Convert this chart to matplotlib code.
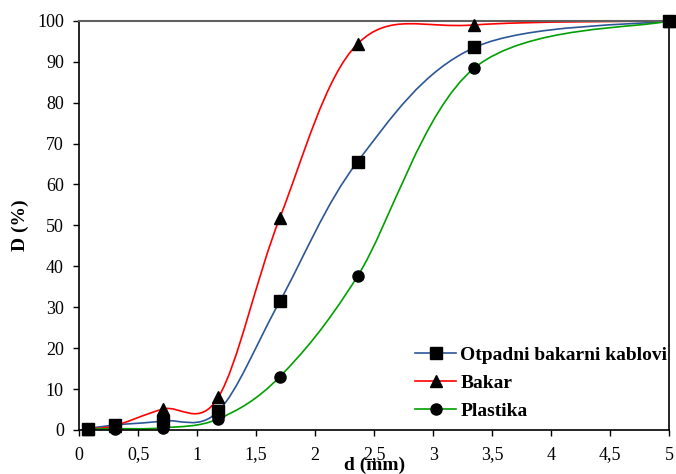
import matplotlib
matplotlib.use('Agg')
import matplotlib.pyplot as plt
from matplotlib.path import Path
from matplotlib.patches import PathPatch
from matplotlib.lines import Line2D
from matplotlib.ticker import FuncFormatter

plt.rcParams['font.family'] = ['Liberation Serif', 'DejaVu Serif']

# sieve sizes (mm)
d = [0.075, 0.3, 0.71, 1.18, 1.7, 2.36, 3.35, 5.0]

# cumulative passing (%)
kablovi = [0.3, 1.2, 2.2, 4.6, 31.4, 65.6, 93.5, 100.0]
bakar = [0.3, 1.0, 5.1, 8.0, 51.8, 94.4, 99.0, 100.0]
plastika = [0.2, 0.3, 0.5, 2.7, 13.0, 37.6, 88.5, 100.0]

labels = ['Otpadni bakarni kablovi', 'Bakar', 'Plastika']
colors = ['#2B5797', '#FF0000', '#00A000']
markers = ['s', '^', 'o']


def smooth_path(xs, ys):
    # Excel-like smoothed line: cubic bezier through the points
    pts = list(zip(xs, ys))
    n = len(pts)
    verts = [pts[0]]
    codes = [Path.MOVETO]
    for i in range(n - 1):
        p0 = pts[i - 1] if i > 0 else pts[i]
        p1 = pts[i]
        p2 = pts[i + 1]
        p3 = pts[i + 2] if i + 2 < n else pts[i + 1]
        c1 = (p1[0] + (p2[0] - p0[0]) / 6, p1[1] + (p2[1] - p0[1]) / 6)
        c2 = (p2[0] - (p3[0] - p1[0]) / 6, p2[1] - (p3[1] - p1[1]) / 6)
        verts += [c1, c2, p2]
        codes += [Path.CURVE4] * 3
    return Path(verts, codes)


fig = plt.figure(figsize=(6.76, 4.74), dpi=100)
ax = fig.add_axes([0.117, 0.093, 0.873, 0.863])

handles = []
for ys, lab, col, mk in zip([kablovi, bakar, plastika], labels, colors, markers):
    ax.add_patch(PathPatch(smooth_path(d, ys), facecolor='none', edgecolor=col, lw=1.2, zorder=2))
    ax.plot(d, ys, linestyle='none', marker=mk, color='k', markersize=8, zorder=3, clip_on=False)
    handles.append(Line2D([], [], color=col, lw=1.2, marker=mk, mfc='k', mec='k', markersize=8))

ax.set_xlim(0, 5)
ax.set_ylim(0, 100)
ax.set_xticks([0, 0.5, 1, 1.5, 2, 2.5, 3, 3.5, 4, 4.5, 5])
ax.set_yticks(range(0, 101, 10))
ax.xaxis.set_major_formatter(FuncFormatter(lambda v, p: ('%g' % v).replace('.', ',')))
ax.tick_params(labelsize=13, length=4, width=1, color='k', direction='out')
ax.tick_params(axis='x', pad=8)
ax.tick_params(axis='y', pad=7)

for s in ['left', 'bottom', 'right']:
    ax.spines[s].set_color('k')
    ax.spines[s].set_linewidth(1.2)
ax.spines['top'].set_color('#606060')
ax.spines['top'].set_linewidth(1.5)

ax.set_xlabel('d (mm)', fontsize=14, fontweight='bold', labelpad=-5)
ax.set_ylabel('D (%)', fontsize=14, fontweight='bold', labelpad=6)

ax.legend(handles, labels, loc='lower right', bbox_to_anchor=(1.013, 0.0),
          frameon=False, prop={'weight': 'bold', 'size': 14},
          handlelength=2.1, labelspacing=0.55, handletextpad=0.2, borderaxespad=0.1)

fig.savefig('out.png', dpi=100)
